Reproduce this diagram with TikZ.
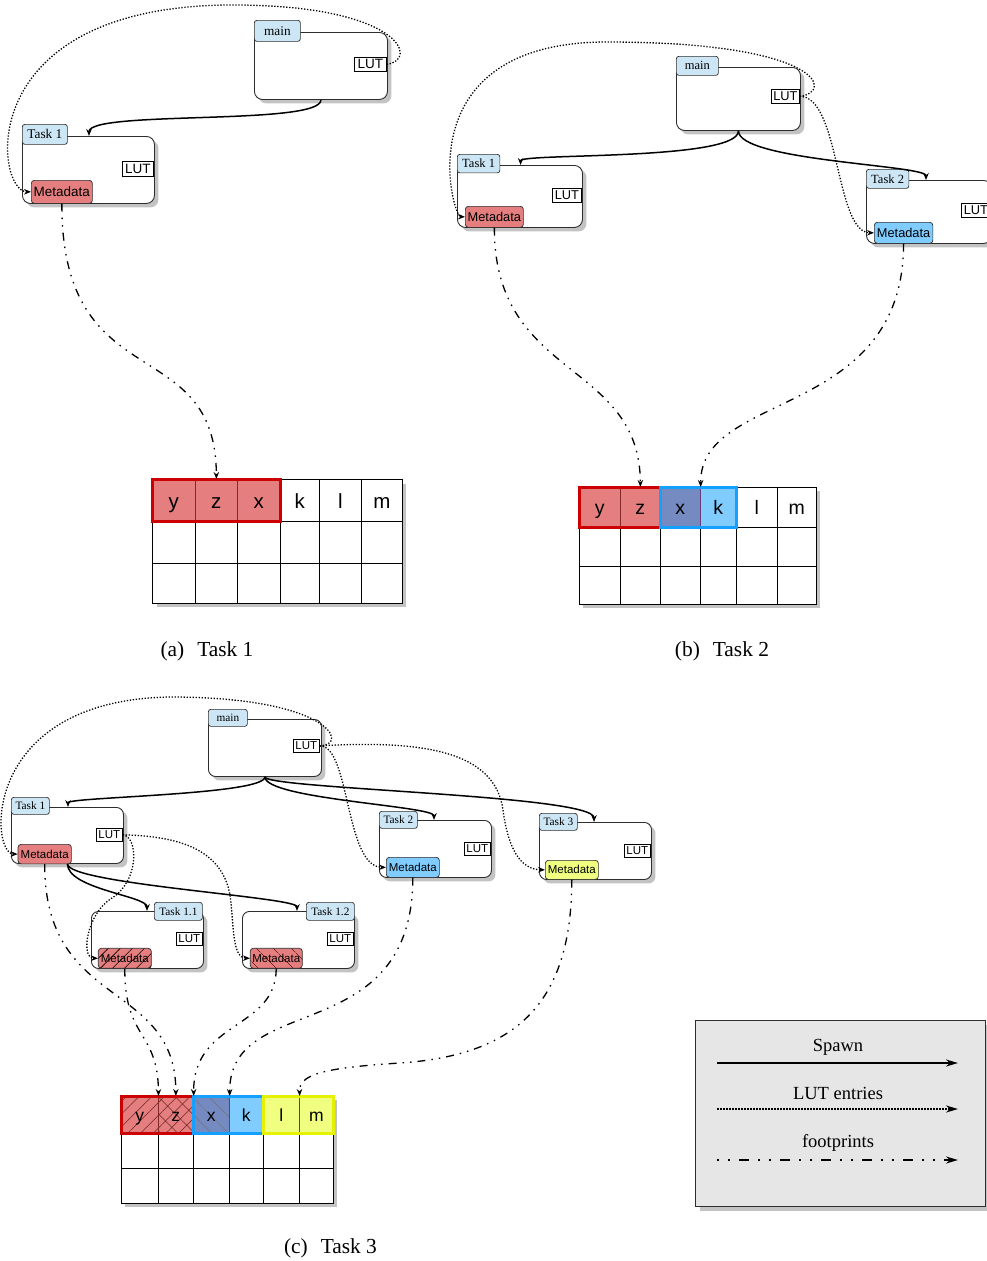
\documentclass[tikz,border=0pt]{standalone}
\usepackage{fontspec}
\setmainfont{Liberation Serif}
\setsansfont{Liberation Sans}
\usetikzlibrary{arrows.meta,shadows,patterns.meta}
\newcommand{\fsz}[1]{\fontsize{#1pt}{#1pt}\selectfont}
\newcommand{\nd}[7]{\node[#1, minimum width=#5pt, minimum height=#6pt] (#2) at (#3,#4) {#7};}
\definecolor{lblue}{RGB}{205,230,245}
\definecolor{mred}{RGB}{229,127,127}
\definecolor{mblue}{RGB}{128,204,255}
\definecolor{myel}{RGB}{240,255,128}
\definecolor{xpur}{RGB}{116,138,192}
\definecolor{bred}{RGB}{204,0,0}
\definecolor{bblue}{RGB}{20,160,255}
\definecolor{byel}{RGB}{228,242,0}
\definecolor{edgegray}{RGB}{45,45,45}
\definecolor{shadowgray}{RGB}{195,195,195}
\definecolor{legfill}{RGB}{230,230,230}
\definecolor{cellred}{RGB}{130,40,40}
\definecolor{hatchred}{RGB}{110,35,35}
\definecolor{xline}{RGB}{105,60,120}
\tikzset{
 tbox/.style={draw=edgegray, line width=0.9pt, fill=white, rounded corners=8pt, inner sep=0pt, anchor=north west,
   drop shadow={shadow xshift=4pt, shadow yshift=-4pt, fill=shadowgray, opacity=1}},
 tboxs/.style={tbox, rounded corners=7pt, drop shadow={shadow xshift=3.5pt, shadow yshift=-3.5pt, fill=shadowgray, opacity=1}},
 lbl/.style={draw=edgegray, line width=0.7pt, fill=lblue, rounded corners=2.5pt, inner sep=0pt, anchor=north west},
 lut/.style={draw=black, line width=0.7pt, fill=white, inner sep=0pt, anchor=north west},
 meta/.style={draw=edgegray, line width=0.7pt, rounded corners=3pt, inner sep=0pt, anchor=north west},
 spawn/.style={line width=1.5pt, -{Stealth[length=7pt,width=5.5pt]}},
 lutl/.style={line width=1.3pt, dash pattern=on 1.3pt off 1.7pt, -{Stealth[length=7pt,width=5.5pt]}},
 foot/.style={line width=1.3pt, dash pattern=on 8pt off 6pt on 1.5pt off 6pt on 1.5pt off 6pt, -{Stealth[length=7pt,width=5.5pt]}},
 cell/.style={draw=black, line width=0.7pt, fill=white, inner sep=0pt, anchor=north west},
 cella/.style={cell, font=\sffamily\fsz{20.5}, text height=20pt, text depth=4.3pt},
 cellb/.style={cell, font=\sffamily\fsz{19.5}, text height=18pt, text depth=4.1pt},
 cellc/.style={cell, font=\sffamily\fsz{17.5}, text height=17pt, text depth=3.7pt},
 gline/.style={draw=black, line width=0.7pt},
 redb/.style={draw=bred, line width=3pt},
 blueb/.style={draw=bblue, line width=3pt},
 yelb/.style={draw=byel, line width=3pt},
 capt/.style={font=\fsz{21.4}},
}
\begin{document}
\begin{tikzpicture}[x=1pt,y=-1pt]
\useasboundingbox (0,0) rectangle (987,1261);
\clip (0,0) rectangle (987,1261);

%%%%%%%%%%%%%%%% (a)
\nd{tbox}{mainA}{254}{32}{133}{67}{}
\nd{lut,font=\sffamily\fsz{13.5}}{mainAlut}{354}{57}{32}{14}{LUT}
\nd{lbl,font=\fsz{13.3}}{mainAlbl}{254}{20}{46}{21}{main}
\nd{tbox}{t1A}{22}{136}{132}{67}{}
\nd{lut,font=\sffamily\fsz{13.5}}{t1Alut}{122}{161}{31}{15}{LUT}
\nd{meta,fill=mred,font=\sffamily\fsz{13.5}}{t1Am}{31}{180}{61}{23}{Metadata}
\nd{lbl,font=\fsz{13.3}}{t1Albl}{22}{124}{45}{20}{Task 1}
\coordinate (t1Ain) at (89,136);

\fill[shadowgray] (157,484) rectangle (406,607);
\filldraw[fill=white, gline] (152,521) rectangle (402,603);
\draw[gline] (152,563) -- (402,563);
\foreach \x in {195,237,280,319,361} \draw[gline] (\x,521) -- (\x,603);
\nd{cella,fill=mred,draw=cellred}{aY}{152}{479}{43}{42}{y}
\nd{cella,fill=mred,draw=cellred}{aZ}{195}{479}{42}{42}{z}
\nd{cella,fill=mred,draw=cellred}{aX}{237}{479}{43}{42}{x}
\nd{cella}{aK}{280}{479}{39}{42}{k}
\nd{cella}{aL}{319}{479}{42}{42}{l}
\nd{cella}{aM}{361}{479}{41}{42}{m}
\draw[redb] (aY.north west) rectangle (aX.south east);

\draw[spawn] (mainA.south) .. controls +(0,26) and +(0,-26) .. (t1Ain);
\draw[lutl] (mainAlut.east) .. controls (420,60) and (400,5) .. (233,5) .. controls (-30,5) and (-5,191.5) .. (t1Am.west);
\draw[foot] (t1Am.south) .. controls (61.5,400) and (216,330) .. (aZ.north);

\node[capt] (capA) at (207,651) {(a)\hspace{13pt}Task 1};

%%%%%%%%%%%%%%%% (b)
\nd{tbox}{mainB}{676}{67}{124}{63}{}
\nd{lut,font=\sffamily\fsz{12.8}}{mainBlut}{771}{89}{28}{14}{LUT}
\nd{lbl,font=\fsz{12.5}}{mainBlbl}{676}{56}{42}{19}{main}
\nd{tbox}{t1B}{457}{165}{125}{62}{}
\nd{lut,font=\sffamily\fsz{12.8}}{t1Blut}{552}{188}{29}{14}{LUT}
\nd{meta,fill=mred,font=\sffamily\fsz{12.8}}{t1Bm}{465}{206}{58}{21}{Metadata}
\nd{lbl,font=\fsz{12.5}}{t1Blbl}{457}{154}{42.5}{18.5}{Task 1}
\nd{tbox}{t2B}{866}{180}{125}{63}{}
\nd{lut,font=\sffamily\fsz{12.8}}{t2Blut}{961}{203}{29}{14}{LUT}
\nd{meta,fill=mblue,font=\sffamily\fsz{12.8}}{t2Bm}{874}{222}{58.5}{21}{Metadata}
\nd{lbl,font=\fsz{12.5}}{t2Blbl}{866}{169}{42.5}{19}{Task 2}
\coordinate (t1Bin) at (520.6,165);
\coordinate (t2Bin) at (926,180);

\fill[shadowgray] (583,491) rectangle (820,608);
\filldraw[fill=white, gline] (579,527) rectangle (816,604);
\draw[gline] (579,566) -- (816,566);
\foreach \x in {620,660,700,736,777} \draw[gline] (\x,527) -- (\x,604);
\nd{cellb,fill=mred,draw=cellred}{bY}{579}{487}{41}{40}{y}
\nd{cellb,fill=mred,draw=cellred}{bZ}{620}{487}{40}{40}{z}
\nd{cellb,fill=xpur,draw=xline}{bX}{660}{487}{40}{40}{x}
\nd{cellb,fill=mblue,draw=xline}{bK}{700}{487}{36}{40}{k}
\nd{cellb}{bL}{736}{487}{41}{40}{l}
\nd{cellb}{bM}{777}{487}{39}{40}{m}
\draw[redb] (bY.north west) rectangle (bZ.south east);
\draw[blueb] (bX.north west) rectangle (bK.south east);

\draw[spawn] (mainB.south) .. controls +(0,30) and +(0,-12) .. (t1Bin);
\draw[spawn] (mainB.south) .. controls +(0,30) and +(0,-15) .. (t2Bin);
\draw[lutl] (mainBlut.east) .. controls (835,92) and (820,42) .. (607,42) .. controls (405,42) and (452,216.5) .. (t1Bm.west);
\draw[lutl] (mainBlut.east) .. controls (840,96) and (835,232.5) .. (t2Bm.west);
\draw[foot] (t1Bm.south) .. controls (494,380) and (640,360) .. (bZ.north);
\draw[foot] (t2Bm.south) .. controls (903.25,420) and (700,390) .. (bX.north east);

\node[capt] (capB) at (722,651) {(b)\hspace{13pt}Task 2};

%%%%%%%%%%%%%%%% (c)
\nd{tboxs}{mainC}{208}{719}{113}{57}{}
\nd{lut,font=\sffamily\fsz{11.5}}{mainClut}{293}{739}{26}{13}{LUT}
\nd{lbl,font=\fsz{11.3}}{mainClbl}{208}{709}{39}{17}{main}

\nd{tboxs}{t1C}{11}{807}{112}{56}{}
\nd{lut,font=\sffamily\fsz{11.5}}{t1Clut}{96}{828}{26}{13}{LUT}
\nd{meta,fill=mred,font=\sffamily\fsz{11.5}}{t1Cm}{17.7}{844}{53.3}{19.5}{Metadata}
\nd{lbl,font=\fsz{11.3}}{t1Clbl}{11}{797}{38}{17}{Task 1}

\nd{tboxs}{t2C}{379}{820}{112}{57}{}
\nd{lut,font=\sffamily\fsz{11.5}}{t2Clut}{464}{842}{26}{13}{LUT}
\nd{meta,fill=mblue,font=\sffamily\fsz{11.5}}{t2Cm}{386}{857}{53}{20}{Metadata}
\nd{lbl,font=\fsz{11.3}}{t2Clbl}{379}{811}{38}{17}{Task 2}

\nd{tboxs}{t3C}{539}{822}{112}{57}{}
\nd{lut,font=\sffamily\fsz{11.5}}{t3Clut}{624}{844}{26}{13}{LUT}
\nd{meta,fill=myel,font=\sffamily\fsz{11.5}}{t3Cm}{545}{860}{53}{19}{Metadata}
\nd{lbl,font=\fsz{11.3}}{t3Clbl}{539}{813}{38}{17}{Task 3}

\nd{tboxs}{t11C}{91}{911}{112}{57}{}
\nd{lut,font=\sffamily\fsz{11.5}}{t11Clut}{176}{932}{26}{13}{LUT}
\nd{meta,preaction={fill=mred},pattern={Lines[angle=45,distance=8.5pt,line width=0.6pt]},pattern color=black,font=\sffamily\fsz{11.5}}{t11Cm}{98}{948}{53}{20}{Metadata}
\nd{lbl,font=\fsz{11.3}}{t11Clbl}{154}{902}{48}{18}{Task 1.1}

\nd{tboxs}{t12C}{242}{911}{112}{57}{}
\nd{lut,font=\sffamily\fsz{11.5}}{t12Clut}{327}{932}{26}{13}{LUT}
\nd{meta,preaction={fill=mred},pattern={Lines[angle=-45,distance=13pt,line width=0.5pt]},pattern color=hatchred,font=\sffamily\fsz{11.5}}{t12Cm}{250}{948}{52}{20}{Metadata}
\nd{lbl,font=\fsz{11.3}}{t12Clbl}{306}{902}{48}{18}{Task 1.2}

\coordinate (t1Cin) at (68,807);
\coordinate (t2Cin) at (434,820);
\coordinate (t3Cin) at (594,822);
\coordinate (t11Cin) at (147,911);
\coordinate (t12Cin) at (297,911);

\fill[shadowgray] (125,1100) rectangle (337,1207);
\filldraw[fill=white, gline] (121,1133) rectangle (333,1203);
\draw[gline] (121,1168) -- (333,1168);
\foreach \x in {158,193,229,263,299} \draw[gline] (\x,1133) -- (\x,1203);
\nd{cellc,draw=cellred,preaction={fill=mred},pattern={Lines[angle=45,distance=9pt,line width=0.5pt]},pattern color=hatchred}{cY}{121}{1096}{37}{37}{y}
\nd{cellc,draw=cellred,preaction={fill=mred},pattern={Lines[angle=45,distance=9pt,line width=0.5pt]},pattern color=hatchred,postaction={pattern={Lines[angle=-45,distance=12pt,line width=0.5pt]},pattern color=hatchred}}{cZ}{158}{1096}{35}{37}{z}
\nd{cellc,draw=xline,preaction={fill=xpur},pattern={Lines[angle=-45,distance=12pt,line width=0.5pt]},pattern color=black!55}{cX}{193}{1096}{36}{37}{x}
\nd{cellc,fill=mblue,draw=xline}{cK}{229}{1096}{34}{37}{k}
\nd{cellc,fill=myel,draw=black!70}{cL}{263}{1096}{36}{37}{l}
\nd{cellc,fill=myel,draw=black!70}{cM}{299}{1096}{34}{37}{m}
\draw[redb] (cY.north west) rectangle (cZ.south east);
\draw[blueb] (cX.north west) rectangle (cK.south east);
\draw[yelb] (cL.north west) rectangle (cM.south east);

\draw[spawn] (mainC.south) .. controls +(0,18) and +(0,-10) .. (t1Cin);
\draw[spawn] (mainC.south) .. controls +(0,22) and +(0,-14) .. (t2Cin);
\draw[spawn] (mainC.south) .. controls +(0,12) and +(0,-27) .. (t3Cin);
\draw[spawn] (t1C.south) .. controls +(0,25) and +(0,-15) .. (t11Cin);
\draw[spawn] (t1C.south) .. controls +(0,20) and +(0,-14) .. (t12Cin);

\draw[lutl] (mainClut.east) .. controls (350,745) and (330,697) .. (170,697) .. controls (-20,700) and (-10,853.75) .. (t1Cm.west);
\draw[lutl] (mainClut.east) .. controls (350,745) and (345,867) .. (t2Cm.west);
\draw[lutl] (mainClut.east) .. controls (420,740) and (495,750) .. (503,810) .. controls (508,848) and (520,869.5) .. (t3Cm.west);
\draw[lutl] (t1Clut.east) .. controls (138,836) and (140,880) .. (112,898) .. controls (87,913) and (80,958) .. (t11Cm.west);
\draw[lutl] (t1Clut.east) .. controls (180,836) and (222,850) .. (230,895) .. controls (234,925) and (232,958) .. (t12Cm.west);

\draw[foot] (t1Cm.south) .. controls (44.3,1010) and (176,980) .. (cZ.north);
\draw[foot] (t11Cm.south) .. controls (124.5,1040) and (158,1030) .. (cY.north east);
\draw[foot] (t12Cm.south) .. controls (276,1030) and (193,1020) .. (cZ.north east);
\draw[foot] (t2Cm.south) .. controls (412.5,1050) and (229,990) .. (cX.north east);
\draw[foot] (t3Cm.south) .. controls (571.5,1000) and (520,1055) .. (400,1063) .. controls (320,1068) and (299,1075) .. (cL.north east);

\node[capt] (capC) at (330.5,1248) {(c)\hspace{13pt}Task 3};

%%%%%%%%%%%%%%%% legend
\node[draw=edgegray, line width=0.9pt, fill=legfill, anchor=north west, minimum width=290pt, minimum height=186pt, inner sep=0pt,
  drop shadow={shadow xshift=5pt, shadow yshift=-5pt, fill=shadowgray, opacity=1}] (legend) at (695,1020) {};
\node[font=\fsz{18.5}] (legSpawn) at (838,1047) {Spawn};
\node[font=\fsz{18.5}] (legLut) at (838,1093) {LUT entries};
\node[font=\fsz{18.5}] (legFoot) at (838,1143) {footprints};
\coordinate (ls1) at (717,1063);
\coordinate (le1) at (958,1063);
\coordinate (ls2) at (717,1109);
\coordinate (le2) at (958,1109);
\coordinate (ls3) at (717,1160);
\coordinate (le3) at (958,1160);
\draw[line width=2pt, -{Stealth[length=12pt,width=7pt]}] (ls1) -- (le1);
\draw[line width=1.6pt, dash pattern=on 1.5pt off 1.5pt, -{Stealth[length=12pt,width=7pt]}] (ls2) -- (le2);
\draw[line width=1.7pt, dash pattern=on 2pt off 9pt on 2pt off 9pt on 10pt off 9pt, -{Stealth[length=12pt,width=7pt]}] (ls3) -- (le3);
\end{tikzpicture}
\end{document}
